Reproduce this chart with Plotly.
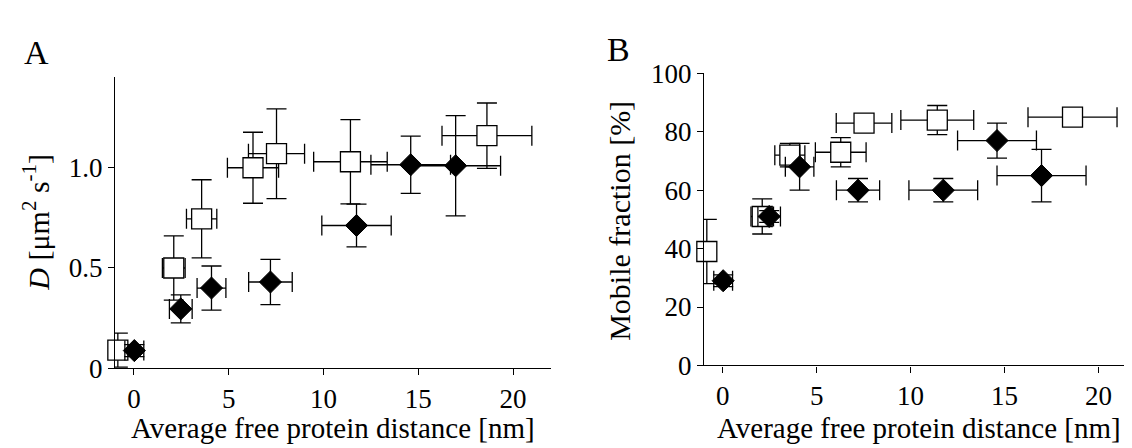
import plotly.graph_objects as go

# ---------------- data ----------------
sq_x = [-0.85, 2.1, 3.57, 6.28, 7.52, 11.42, 18.62]
sq_xerr = [0.45, 0.6, 0.8, 1.35, 1.48, 1.94, 2.37]
sq_D = [0.09, 0.50, 0.745, 1.0, 1.07, 1.03, 1.16]
sq_D_err = [0.085, 0.16, 0.195, 0.177, 0.224, 0.21, 0.163]
sq_mf = [39, 51, 72, 73, 83, 84, 85]
sq_mf_err = [11, 6, 4, 5, 2, 5, 2]

di_x = [0.02, 2.47, 4.09, 7.2, 11.74, 14.6, 16.97]
di_xerr = [0.5, 0.6, 0.76, 1.15, 1.83, 2.1, 2.37]
di_D = [0.088, 0.296, 0.40, 0.43, 0.712, 1.015, 1.01]
di_D_err = [0.03, 0.07, 0.11, 0.113, 0.107, 0.143, 0.25]
di_mf = [29, 51, 68, 60, 60, 77, 65]
di_mf_err = [2, 2, 8, 4, 4, 6, 9]

x_ticks = [0, 5, 10, 15, 20]
yA_ticks = [0, 0.5, 1.0]
yA_labels = ["0", "0.5", "1.0"]
yB_ticks = [0, 20, 40, 60, 80, 100]

x_title = "Average free protein distance [nm]"
yA_title = "<i>D</i> [μm<sup>2</sup> s<sup>-1</sup>]"
yB_title = "Mobile fraction [%]"

# ---------------- figure ----------------
W, H = 1132, 448
FONT = "Liberation Serif"
LW = 1.3

def err(arr):
    return dict(type="data", array=arr, symmetric=True, color="black",
                thickness=LW, width=10)

fig = go.Figure()

for xa, ya, ys_sq, es_sq, ys_di, es_di in [
    ("x", "y", sq_D, sq_D_err, di_D, di_D_err),
    ("x2", "y2", sq_mf, sq_mf_err, di_mf, di_mf_err),
]:
    fig.add_trace(go.Scatter(
        x=sq_x, y=ys_sq, mode="markers", xaxis=xa, yaxis=ya,
        error_x=err(sq_xerr), error_y=err(es_sq),
        marker=dict(symbol="square", size=20, color="white",
                    line=dict(color="black", width=LW)),
        showlegend=False, cliponaxis=False))
    fig.add_trace(go.Scatter(
        x=di_x, y=ys_di, mode="markers", xaxis=xa, yaxis=ya,
        error_x=err(di_xerr), error_y=err(es_di),
        marker=dict(symbol="diamond", size=17, color="black",
                    line=dict(color="black", width=1)),
        showlegend=False, cliponaxis=False))

def px2fx(px):
    return px / W

def py2fy(py):
    return 1 - py / H

axis_common = dict(showline=True, linecolor="black", linewidth=LW,
                   ticks="outside", ticklen=6, tickwidth=LW, tickcolor="black",
                   showgrid=False, zeroline=False,
                   tickfont=dict(family=FONT, size=27, color="black"))

fig.update_layout(
    width=W, height=H,
    margin=dict(l=0, r=0, t=0, b=0),
    paper_bgcolor="white", plot_bgcolor="white",
    font=dict(family=FONT, color="black"),
    xaxis=dict(domain=[px2fx(107), px2fx(543)], range=[-1, 22],
               tickvals=x_ticks, anchor="y", **axis_common),
    yaxis=dict(domain=[py2fy(370), py2fy(58)], range=[0, 1.452],
               tickvals=yA_ticks, ticktext=yA_labels, anchor="x",
               **axis_common),
    xaxis2=dict(domain=[px2fx(696), px2fx(1128)], range=[-1, 22],
                tickvals=x_ticks, anchor="y2", **axis_common),
    yaxis2=dict(domain=[py2fy(367), py2fy(54)], range=[0, 100],
                tickvals=yB_ticks, anchor="x2", **axis_common),
)

ann = [
    dict(text="A", x=px2fx(28), y=py2fy(32), size=34, angle=0),
    dict(text="B", x=px2fx(610), y=py2fy(28), size=34, angle=0),
    dict(text=x_title, x=px2fx(325), y=py2fy(434), size=29, angle=0),
    dict(text=x_title, x=px2fx(911), y=py2fy(434), size=29, angle=0),
    dict(text=yA_title, x=px2fx(28), y=py2fy(214), size=30, angle=-90),
    dict(text=yB_title, x=px2fx(612), y=py2fy(212), size=30, angle=-90),
]
for a in ann:
    fig.add_annotation(text=a["text"], x=a["x"], y=a["y"], xref="paper",
                       yref="paper", showarrow=False, textangle=a["angle"],
                       xanchor="center", yanchor="middle", borderpad=0,
                       font=dict(family=FONT, size=a["size"], color="black"))

fig.write_html("out.html")
